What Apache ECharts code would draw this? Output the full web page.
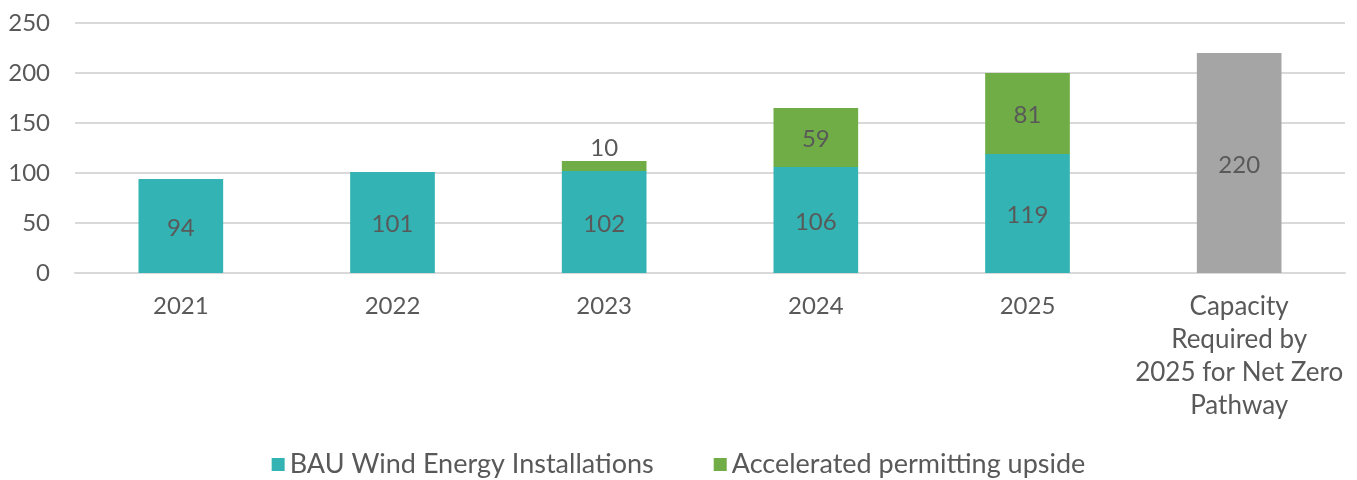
<!DOCTYPE html>
<html>
<head>
<meta charset="utf-8">
<script src="https://cdn.jsdelivr.net/npm/echarts@6/dist/echarts.min.js"></script>
<style>
  html, body { margin: 0; padding: 0; background: #fff; }
  #chart { width: 1357px; height: 480px; }
</style>
</head>
<body>
<div id="chart"></div>
<script>
const categories = ['2021', '2022', '2023', '2024', '2025', 'Capacity\nRequired by\n2025 for Net Zero\nPathway'];
const bauValues = [94, 101, 102, 106, 119, '-'];
const upsideValues = ['-', '-', 10, 59, 81, '-'];
const requiredValues = ['-', '-', '-', '-', '-', 220];
const yTicks = [0, 50, 100, 150, 200, 250];

const textColor = '#595959';
const font = 'Lato, "Noto Sans", sans-serif';

const chart = echarts.init(document.getElementById('chart'));

const option = {
  animation: false,
  textStyle: { fontFamily: font },
  grid: { left: 75, right: 12, top: 23, bottom: 207, containLabel: false },
  legend: {
    top: 446,
    left: 'center',
    data: ['BAU Wind Energy Installations', 'Accelerated permitting upside'],
    icon: 'rect',
    itemWidth: 13,
    itemHeight: 13,
    itemGap: 60,
    textStyle: { color: textColor, fontSize: 27, fontFamily: font }
  },
  xAxis: {
    type: 'category',
    data: categories,
    axisLine: { show: true, lineStyle: { color: '#d9d9d9', width: 2 } },
    axisTick: { show: false },
    axisLabel: {
      color: textColor,
      fontSize: 24,
      lineHeight: 33,
      margin: 17,
      interval: 0,
      formatter: (v) => v.indexOf('\n') >= 0 ? '{big|' + v.split('\n').join('}\n{big|') + '}' : v,
      rich: { big: { fontSize: 26, lineHeight: 33, color: textColor } }
    }
  },
  yAxis: {
    type: 'value',
    min: yTicks[0],
    max: yTicks[yTicks.length - 1],
    interval: 50,
    axisLine: { show: false },
    axisTick: { show: false },
    axisLabel: { color: textColor, fontSize: 24, margin: 25 },
    splitLine: { lineStyle: { color: '#d9d9d9', width: 2 } }
  },
  series: [
    {
      name: 'BAU Wind Energy Installations',
      type: 'bar',
      stack: 'total',
      barWidth: '40%',
      data: bauValues,
      itemStyle: { color: '#33b3b3' },
      label: { show: true, position: 'inside', color: textColor, fontSize: 24, offset: [0, 2] }
    },
    {
      name: 'Accelerated permitting upside',
      type: 'bar',
      stack: 'total',
      // small upside values get their label above the bar
      data: upsideValues.map(v => (v !== '-' && v < 20)
        ? { value: v, label: { show: true, position: 'top', distance: 1, offset: [0, 0] } }
        : v),
      itemStyle: { color: '#70ad47' },
      label: { show: true, position: 'inside', color: textColor, fontSize: 24, offset: [0, 2] }
    },
    {
      name: 'Capacity required',
      type: 'bar',
      stack: 'total',
      data: requiredValues,
      itemStyle: { color: '#a5a5a5' },
      label: { show: true, position: 'inside', color: textColor, fontSize: 24, offset: [0, 2] }
    }
  ]
};

chart.setOption(option);
</script>
</body>
</html>
